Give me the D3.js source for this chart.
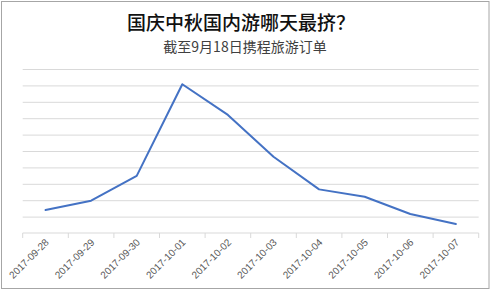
<!DOCTYPE html>
<html>
<head>
<meta charset="utf-8">
<script src="https://cdn.jsdelivr.net/npm/d3@7"></script>
<style>
  html, body { margin: 0; padding: 0; background: #fff; }
  svg { display: block; }
</style>
</head>
<body>
<svg id="chart" width="491" height="292"></svg>
<script>
const titleText = "国庆中秋国内游哪天最挤？";
const subtitleText = "截至9月18日携程旅游订单";
const categories = ["2017-09-28","2017-09-29","2017-09-30","2017-10-01","2017-10-02","2017-10-03","2017-10-04","2017-10-05","2017-10-06","2017-10-07"];
const values = [1.40, 1.97, 3.48, 9.07, 7.20, 4.65, 2.66, 2.21, 1.16, 0.55];
const yTicks = [0,1,2,3,4,5,6,7,8,9,10];

(function () {
const svg = d3.select("#chart");
const pL = 22.7, pR = 478.7, pT = 69, pB = 233;

svg.append("rect").attr("x", 1.5).attr("y", 1.5).attr("width", 487.5).attr("height", 287)
  .attr("fill", "#fff").attr("stroke", "#a6a6a6").attr("stroke-width", 1);

svg.append("text").attr("x", 241).attr("y", 30).attr("text-anchor", "middle")
  .attr("font-family", "Noto Sans CJK SC").attr("font-size", 19).attr("font-weight", 500)
  .attr("fill", "#111").text(titleText);
svg.append("text").attr("x", 245).attr("y", 52).attr("text-anchor", "middle")
  .attr("font-family", "Noto Sans CJK SC").attr("font-size", 14)
  .attr("fill", "#404040").text(subtitleText);

const x = d3.scaleBand().domain(categories).range([pL, pR]);
const y = d3.scaleLinear().domain([0, 10]).range([pB, pT]);

// gridlines
svg.append("g").attr("transform", `translate(${pL},0)`)
  .call(d3.axisLeft(y).tickValues(yTicks.slice(1)).tickSize(-(pR - pL)).tickFormat(""))
  .call(g => g.select(".domain").remove())
  .call(g => g.selectAll("line").attr("stroke", "#d9d9d9").attr("stroke-width", 1));

// x axis
const xAxis = svg.append("g").attr("transform", `translate(0,${pB})`)
  .call(d3.axisBottom(x).tickSize(0).tickPadding(0));
xAxis.select(".domain").attr("stroke", "#d9d9d9").attr("d", `M${pL},0H${pR}`);
const bounds = categories.map(c => x(c)).concat([pR]);
xAxis.selectAll(".bt").data(bounds).enter().append("line").attr("class", "bt")
  .attr("x1", d => d).attr("x2", d => d).attr("y1", 0).attr("y2", 5)
  .attr("stroke", "#d9d9d9");
xAxis.selectAll(".tick text")
  .attr("font-family", "Liberation Sans, Arial, sans-serif").attr("font-size", 10)
  .attr("fill", "#595959").attr("text-anchor", "end")
  .attr("dy", 0).attr("y", 0)
  .attr("transform", "translate(4,10) rotate(-45)");

// line
const line = d3.line().x((d, i) => x(categories[i]) + x.bandwidth() / 2).y(d => y(d));
svg.append("path").datum(values).attr("d", line)
  .attr("fill", "none").attr("stroke", "#4472c4").attr("stroke-width", 2)
  .attr("stroke-linejoin", "round").attr("stroke-linecap", "round");
})();
</script>
</body>
</html>
